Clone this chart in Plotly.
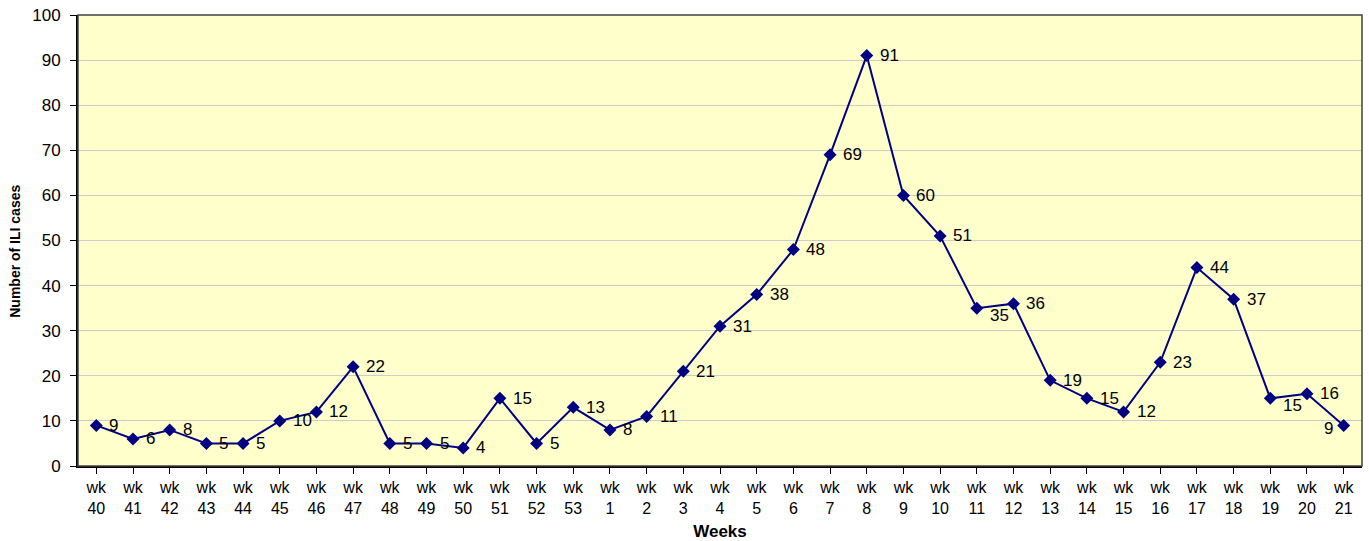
import plotly.graph_objects as go

weeks = ["40", "41", "42", "43", "44", "45", "46", "47", "48", "49", "50", "51", "52", "53",
         "1", "2", "3", "4", "5", "6", "7", "8", "9", "10", "11", "12", "13", "14", "15",
         "16", "17", "18", "19", "20", "21"]
cases = [9, 6, 8, 5, 5, 10, 12, 22, 5, 5, 4, 15, 5, 13,
         8, 11, 21, 31, 38, 48, 69, 91, 60, 51, 35, 36, 19, 15, 12,
         23, 44, 37, 15, 16, 9]
tick_labels = ["wk<br>" + w for w in weeks]

# label placement tweaks (index -> (xanchor, xshift, yshift))
label_tweaks = {24: ("left", 11, -7), 32: ("left", 11, -7), 34: ("right", -9, -3)}

FONT = "Liberation Sans, Arial, sans-serif"

fig = go.Figure()
fig.add_trace(go.Scatter(
    x=list(range(len(weeks))), y=cases, mode="lines+markers",
    line=dict(color="#000080", width=2),
    marker=dict(symbol="diamond", size=10, color="#000080"),
    hoverinfo="skip", showlegend=False,
))

for i, v in enumerate(cases):
    xa, xs, ys = label_tweaks.get(i, ("left", 11, 0))
    fig.add_annotation(x=i, y=v, text=str(v), showarrow=False,
                       xanchor=xa, yanchor="middle", xshift=xs, yshift=ys,
                       font=dict(family=FONT, size=17, color="#000000"))

# y-axis title
fig.add_annotation(xref="paper", yref="paper", x=0, y=0.475, xshift=-63,
                   text="<b>Number of ILI cases</b>", textangle=-90, showarrow=False,
                   xanchor="center", yanchor="middle",
                   font=dict(family=FONT, size=14, color="#000000"))

fig.add_shape(type="rect", xref="paper", yref="paper", x0=0, y0=0, x1=1, y1=1,
              line=dict(color="#404040", width=1.5), layer="above")

fig.update_layout(
    width=1369, height=541,
    margin=dict(l=78, r=7, t=15, b=75),
    paper_bgcolor="white", plot_bgcolor="#FFFFCC",
    font=dict(family=FONT, size=16, color="#000000"),
)
fig.update_xaxes(
    tickmode="array", tickvals=list(range(len(weeks))), ticktext=tick_labels,
    range=[-0.5, len(weeks) - 0.5], automargin=False,
    ticks="outside", ticklen=6, tickcolor="#000000", tickson="boundaries",
    showline=True, linecolor="#000000", linewidth=2, showgrid=False, zeroline=False,
    tickfont=dict(family=FONT, size=16), ticklabelstandoff=0,
    title=dict(text="<b>Weeks</b>", font=dict(family=FONT, size=17), standoff=17),
)
fig.update_yaxes(
    range=[0, 100], dtick=10, automargin=False,
    ticks="outside", ticklen=6, tickcolor="#000000",
    showline=True, linecolor="#000000", linewidth=2,
    showgrid=True, gridcolor="#CCCCCC", gridwidth=1, zeroline=False,
    tickfont=dict(family=FONT, size=17), ticklabelstandoff=6,
    ticklabeloverflow="allow",
)

fig.write_html("out.html", config={"displayModeBar": False},
               post_script="document.body.style.margin='0';document.body.style.overflow='hidden';")
